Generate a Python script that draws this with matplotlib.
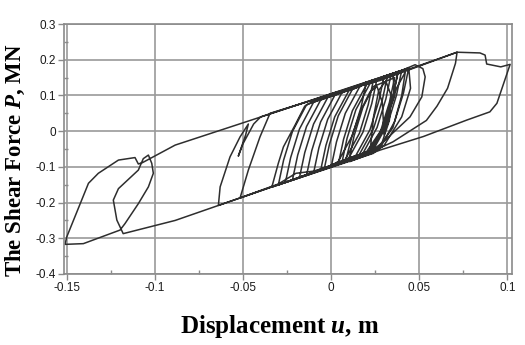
import numpy as np
import matplotlib
matplotlib.use("Agg")
import matplotlib.pyplot as plt
from matplotlib.ticker import AutoMinorLocator

# displacement u (m) and shear force P (MN) along the loading path
disp = [
  # small cycles around zero
  0.000, 0.003, 0.008, 0.016, 0.020, 0.017, 0.012, 0.004,
  -0.004, -0.001, 0.004, 0.012, 0.026, 0.023, 0.018, 0.010,
  0.006, 0.009, 0.014, 0.022, 0.030, 0.027, 0.022, 0.014,
  -0.010, -0.007, -0.002, 0.006, 0.024, 0.021, 0.016, 0.008,
  -0.006, -0.003, 0.002, 0.010, 0.034, 0.031, 0.026, 0.018,
  0.004, 0.007, 0.012, 0.020, 0.038, 0.035, 0.030, 0.022,
  -0.014, -0.011, -0.006, 0.002, 0.032, 0.029, 0.024, 0.016,
  -0.018, -0.015, -0.010, -0.002, 0.040, 0.037, 0.032, 0.024,
  0.010, 0.013, 0.018, 0.024, 0.036, 0.033, 0.028, 0.020,
  -0.022, -0.019, -0.014, -0.006, 0.044, 0.041, 0.036, 0.028,
  0.008, 0.012, 0.017, 0.022, 0.026, 0.029, 0.030, 0.033, 0.037, 0.042, 0.040, 0.035, 0.026,
  0.022, 0.024, 0.027, 0.031, 0.034, 0.033, 0.029, 0.024,
  -0.026, -0.023, -0.018, -0.010, 0.038, 0.035, 0.030, 0.022,
  # growing cycles
  -0.030, -0.027, -0.022, -0.014, 0.040, 0.0476, 0.052, 0.0533, 0.0514, 0.0447, 0.0296, 0.020,
  -0.0337, -0.030, -0.0271, -0.0205, -0.015, -0.008, 0.044, 0.045, 0.040, 0.030, 0.024,
  -0.010, -0.020, -0.030,
  -0.0517, -0.047, -0.0404, -0.0347, 0.0278, 0.0714,
  0.0705, 0.066, 0.060, 0.054, 0.035, 0.0164,
  -0.030, -0.064, -0.063, -0.0574, -0.0517, -0.047, -0.0485, -0.0527, -0.050, -0.044, -0.040,
  0.035, 0.036, 0.030, 0.022,
  -0.0517, -0.0885, -0.118,
  -0.1216, -0.1236, -0.1207, -0.1094, -0.1066, -0.1037, -0.1018, -0.1009, -0.1037, -0.1094, -0.117, -0.1198,
  -0.1406, -0.151, -0.150, -0.1377, -0.1321, -0.1207, -0.1113, -0.1094, -0.107,
  -0.0885, -0.0337, 0.0022, 0.0278, 0.0714,
  0.0844, 0.0873, 0.0882, 0.0962, 0.1015, 0.094, 0.090, 0.0769, 0.0523, 0.0277, 0.0107,
]
force = [
  -0.100, -0.030, 0.050, 0.123, 0.138, 0.068, -0.012, -0.085,
  -0.107, -0.037, 0.043, 0.117, 0.147, 0.077, -0.003, -0.075,
  -0.090, -0.020, 0.060, 0.133, 0.154, 0.084, 0.004, -0.068,
  -0.117, -0.047, 0.033, 0.107, 0.144, 0.074, -0.006, -0.079,
  -0.110, -0.040, 0.040, 0.113, 0.160, 0.090, 0.010, -0.062,
  -0.093, -0.023, 0.057, 0.130, 0.167, 0.097, 0.017, -0.055,
  -0.124, -0.054, 0.026, 0.100, 0.157, 0.087, 0.007, -0.065,
  -0.130, -0.060, 0.020, 0.094, 0.170, 0.100, 0.020, -0.051,
  -0.083, -0.013, 0.067, 0.125, 0.150, 0.080, 0.000, -0.058,
  -0.137, -0.067, 0.013, 0.087, 0.177, 0.107, 0.027, -0.045,
  -0.086, -0.010, 0.060, 0.110, 0.125, 0.080, -0.010, 0.060, 0.120, 0.165, 0.100, 0.010, -0.052,
  -0.060, 0.040, 0.115, 0.140, 0.100, 0.030, -0.030, -0.062,
  -0.144, -0.074, 0.006, 0.081, 0.167, 0.097, 0.017, -0.055,
  -0.151, -0.081, -0.001, 0.074, 0.170, 0.186, 0.175, 0.152, 0.096, 0.040, -0.030, -0.066,
  -0.157, -0.090, -0.044, 0.017, 0.070, 0.090, 0.177, 0.120, 0.040, -0.040, -0.060,
  -0.112, -0.118, -0.148,
  -0.187, -0.109, -0.016, 0.050, 0.145, 0.221,
  0.190, 0.120, 0.070, 0.030, -0.030, -0.073,
  -0.150, -0.208, -0.156, -0.072, -0.016, 0.020, -0.010, -0.070, -0.035, 0.020, 0.040,
  0.162, 0.100, 0.010, -0.060,
  -0.187, -0.250, -0.287,
  -0.249, -0.193, -0.161, -0.109, -0.077, -0.067, -0.090, -0.118, -0.156, -0.203, -0.259, -0.277,
  -0.315, -0.317, -0.296, -0.146, -0.118, -0.081, -0.074, -0.092, -0.088,
  -0.039, 0.050, 0.108, 0.142, 0.221,
  0.219, 0.213, 0.188, 0.180, 0.187, 0.078, 0.054, 0.031, -0.015, -0.053, -0.085,
]

xticks = [-0.15, -0.1, -0.05, 0, 0.05, 0.1]
xlabels = ["-0.15", "-0.1", "-0.05", "0", "0.05", "0.1"]
yticks = [-0.4, -0.3, -0.2, -0.1, 0, 0.1, 0.2, 0.3]
ylabels = ["-0.4", "-0.3", "-0.2", "-0.1", "0", "0.1", "0.2", "0.3"]

plt.rcParams["mathtext.fontset"] = "custom"
plt.rcParams["mathtext.it"] = "Liberation Serif:italic:bold"
plt.rcParams["mathtext.rm"] = "Liberation Serif:bold"

fig = plt.figure(figsize=(5.25, 3.45), dpi=100)
ax = fig.add_axes([0.1225, 0.2058, 0.8522, 0.7246])

ax.plot(disp, force, color="#2e2e2e", lw=1.1, solid_joinstyle="round")

ax.set_xlim(-0.1514, 0.1024)
ax.set_ylim(-0.4, 0.3)
ax.set_xticks(xticks)
ax.set_xticklabels(xlabels)
ax.set_yticks(yticks)
ax.set_yticklabels(ylabels)
ax.xaxis.set_minor_locator(AutoMinorLocator(2))
ax.yaxis.set_minor_locator(AutoMinorLocator(2))
ax.grid(True, which="major", color="#9a9a9a", lw=1.2)
ax.set_axisbelow(True)
for s in ax.spines.values():
  s.set_color("#8a8a8a")
  s.set_linewidth(1.2)
ax.tick_params(which="major", direction="out", length=4, width=1, color="#8a8a8a",
               pad=2, labelsize=8.5, labelcolor="#1a1a1a")
ax.tick_params(which="minor", direction="in", length=3, width=1, color="#8a8a8a")
for lab in ax.get_xticklabels() + ax.get_yticklabels():
  lab.set_fontfamily("Liberation Sans")

fig.text(280 / 525, 1 - 333 / 345, r"Displacement $u$, m", family="Liberation Serif",
         fontweight="bold", fontsize=18, ha="center", va="baseline")
fig.text(21 / 525, 1 - 277 / 345, r"The Shear Force $P$, MN", family="Liberation Serif",
         fontweight="bold", fontsize=16.5, rotation=90, rotation_mode="anchor",
         ha="left", va="baseline")

fig.savefig("out.png", dpi=100)
